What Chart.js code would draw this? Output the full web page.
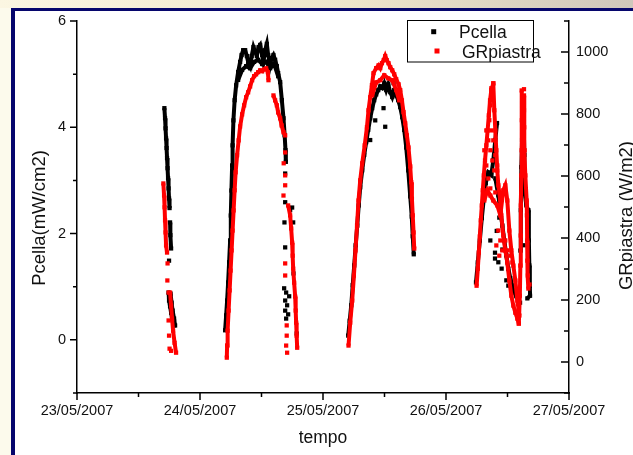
<!DOCTYPE html>
<html>
<head>
<meta charset="utf-8">
<title>Pcella / GRpiastra</title>
<script src="https://cdn.jsdelivr.net/npm/chart.js@4.4.1/dist/chart.umd.min.js"></script>
<style>
  html, body { margin: 0; padding: 0; }
  body { width: 633px; height: 455px; overflow: hidden; position: relative; background: #fcfaec; }
  #band { position: absolute; left: 0; top: 0; width: 633px; height: 8px;
          background: linear-gradient(to right, #fbf6e2, #efe6cb 55%, #cfc7bb); }
  #frame { position: absolute; left: 11px; top: 8px; width: 622px; height: 447px; background: #06066c; }
  #chart { position: absolute; left: 15px; top: 11px; background: #fff; }
</style>
</head>
<body>
<div id="band"></div>
<div id="frame"></div>
<canvas id="chart" width="618" height="444"></canvas>
<script>
"use strict";

// ---- axes: x is hours since 23/05/2007 00:00
const dayTicks = [0, 24, 48, 72, 96];
const dayLabels = ["23/05/2007", "24/05/2007", "25/05/2007", "26/05/2007", "27/05/2007"];
const dayMinorTicks = [12, 36, 60, 84];
const pcellaTicks = [0, 2, 4, 6];
const pcellaMinorTicks = [-1, 1, 3, 5];
const grTicks = [0, 200, 400, 600, 800, 1000];
const grMinorTicks = [-100, 100, 300, 500, 700, 900, 1100];

const xTitle = "tempo";
const pcellaTitle = "Pcella(mW/cm2)";
const grTitle = "GRpiastra (W/m2)";
const pcellaLabel = "Pcella";
const grLabel = "GRpiastra";

// ---- Pcella (mW/cm2): [hour, value], each array one dense trace
const pcella23a = [[17.05,4.36],[17.18,4.17],[17.28,3.98],[17.38,3.79],[17.48,3.61],[17.57,3.42],[17.67,3.23],[17.77,3.04],[17.87,2.85],[17.96,2.66],[18.06,2.48]];
const pcella23b = [[18.16,2.21],[18.22,1.97],[18.36,1.72]];
const pcella23c = [[17.87,0.89],[17.96,0.74],[18.16,0.63],[18.36,0.51],[18.55,0.40],[18.84,0.27]];
const pcella23d = [[18.26,0.87],[18.45,0.70],[18.65,0.55],[18.94,0.40],[19.14,0.27]];
const pcella24a = [[28.90,0.18],[29.10,0.46],[29.29,0.74],[29.49,1.08],[29.68,1.46],[29.88,1.87],[30.01,2.34],[30.13,2.81],[30.27,3.28],[30.36,3.66],[30.52,4.13],[30.76,4.51],[31.05,4.79],[31.44,5.04],[31.83,5.23],[32.12,5.36],[32.42,5.45],[32.81,5.45],[33.14,5.34],[33.39,5.23],[33.78,5.15],[34.08,5.34],[34.43,5.51],[34.76,5.42],[35.09,5.34],[35.44,5.51],[35.74,5.55],[36.13,5.36],[36.38,5.23],[36.71,5.45],[37.04,5.57],[37.30,5.36],[37.69,5.17],[37.98,5.30],[38.33,5.36],[38.66,5.27],[38.99,5.15],[39.25,5.02],[39.64,4.85],[39.97,4.51],[40.29,4.17],[40.52,3.85],[40.68,3.57],[40.75,3.35]];
const pcella24b = [[31.44,4.89],[32.22,5.08],[33.00,5.15],[33.78,5.11],[34.56,5.23],[35.35,5.27],[36.13,5.19],[36.91,5.23],[37.69,5.11],[38.47,5.19],[39.25,4.96]];
const pcella25a = [[52.92,0.08],[53.21,0.36],[53.51,0.65],[53.80,1.03],[54.09,1.40],[54.38,1.78],[54.68,2.15],[54.97,2.53],[55.26,2.87],[55.65,3.19],[56.04,3.48],[56.43,3.72],[56.82,3.95],[57.21,4.17],[57.60,4.36],[57.99,4.51],[58.38,4.62],[58.78,4.70],[59.17,4.77],[59.56,4.74],[59.95,4.83],[60.34,4.70],[60.73,4.81],[61.12,4.66],[61.51,4.57],[61.90,4.70],[62.29,4.60],[62.68,4.51],[63.07,4.38],[63.46,4.19],[63.85,3.95],[64.24,3.62],[64.63,3.19],[65.02,2.70],[65.32,2.32],[65.51,1.95],[65.71,1.61]];
const pcella26a = [[77.85,1.08],[78.21,1.46],[78.60,1.87],[78.99,2.29],[79.38,2.66],[79.77,2.95],[80.26,3.15],[80.84,3.10],[81.23,3.38],[81.62,3.76],[81.96,4.08]];
const pcella26b = [[81.62,3.04],[82.21,2.72],[82.60,2.44],[82.99,2.15],[83.38,1.87],[83.77,1.59],[84.16,1.34],[84.55,1.16],[84.94,1.02],[85.33,0.89],[85.72,0.82],[86.11,0.74],[86.45,0.70]];
const pcella26c = [[86.51,1.68],[86.60,2.44],[86.70,3.25],[86.84,3.76],[87.15,4.10],[87.29,3.48],[87.29,2.81],[87.68,2.53],[88.07,2.44],[88.17,1.87],[88.26,1.40],[88.36,1.02],[88.40,0.83],[87.87,0.78]];
// scattered single readings
const pcellaDots = [[17.96,1.49],[40.62,3.13],[40.62,2.59],[41.59,2.44],[40.48,2.21],[40.62,1.74],[42.24,1.25],[41.98,2.49],[42.18,2.21],[40.42,0.97],[40.81,0.89],[40.62,0.74],[41.00,0.65],[40.62,0.55],[41.20,0.48],[40.81,0.40],[41.40,0.82],[42.86,0.12],[58.19,4.13],[59.81,4.36],[60.14,4.01],[57.21,3.76],[61.77,4.83],[80.65,1.87],[81.56,1.64],[81.56,1.53],[82.21,1.46],[82.86,1.34],[83.77,1.12],[84.16,1.02],[87.15,1.78],[82.40,2.30],[83.00,1.70],[81.90,2.05]];

// ---- GRpiastra (W/m2)
const gr23a = [[16.85,576],[16.99,537],[17.09,499],[17.18,457],[17.28,418],[17.38,376],[17.57,353]];
const gr23b = [[18.16,224],[18.36,182],[18.55,140],[18.75,101],[19.04,62],[19.33,30]];
const gr24a = [[29.23,14],[29.29,53],[29.39,101],[29.58,166],[29.78,231],[29.97,295],[30.17,360],[30.36,424],[30.56,489],[30.76,554],[30.95,612],[31.24,667],[31.54,715],[31.83,760],[32.22,799],[32.61,828],[33.00,854],[33.39,870],[33.78,889],[34.17,909],[34.56,922],[34.95,928],[35.35,935],[35.74,941],[36.13,938],[36.52,944],[36.91,947],[37.24,935],[37.36,909]];
const gr24b = [[38.33,860],[38.66,844],[38.99,828],[39.25,805],[39.64,786],[39.93,763],[40.29,741],[40.62,731]];
const gr24c = [[41.20,505],[41.59,473],[41.79,431],[41.98,385],[42.08,343],[42.18,301],[42.37,256],[42.57,211],[42.67,166],[42.76,127],[42.86,85],[42.96,46]];
const gr25a = [[52.98,53],[53.31,127],[53.70,198],[54.03,279],[54.34,360],[54.64,440],[54.93,521],[55.26,586],[55.65,641],[56.14,699],[56.57,757],[56.88,812],[57.21,854],[57.54,893],[57.86,932],[58.38,948],[58.84,957],[59.17,948],[59.50,964],[59.85,974],[60.14,987],[60.43,974],[60.78,964],[61.12,951],[61.51,941],[61.90,928],[62.29,912],[62.74,896],[63.07,877],[63.40,844],[63.71,806],[64.04,770],[64.37,731],[64.68,692],[65.02,631],[65.21,580],[65.35,527],[65.51,473],[65.67,418],[65.80,366]];
const gr25b = [[57.60,860],[58.38,902],[59.17,909],[59.95,925],[60.73,915],[61.51,909],[62.29,877],[62.87,844]];
const gr26a = [[77.97,246],[78.21,301],[78.40,353],[78.60,405],[78.79,457],[78.99,505],[79.18,554],[79.38,602],[79.61,650],[79.87,699],[80.12,747],[80.36,796],[80.59,844],[80.84,877],[81.23,899]];
const gr26b = [[81.23,899],[81.43,812],[81.62,747],[81.82,683],[82.01,618],[82.21,570],[82.60,521],[82.79,473],[83.18,408],[83.57,360],[83.96,321],[84.36,263],[84.75,214],[85.14,182],[85.53,159],[85.92,140],[86.21,124]];
const gr26c = [[79.48,521],[80.07,554],[80.66,537],[81.23,521],[82.01,505],[82.60,473],[83.18,554],[83.57,570],[83.96,521],[84.36,424],[84.75,360],[85.14,311],[85.53,263],[85.92,198],[86.32,150]];
const gr26d = [[86.21,124],[86.41,214],[86.51,311],[86.57,408],[86.61,505],[86.70,602],[86.76,683],[86.80,780],[86.76,876]];
const gr26e = [[87.22,860],[87.22,812],[87.26,757],[87.35,683],[87.48,602],[87.74,521],[87.79,473],[87.83,392],[87.87,327],[87.97,279],[88.07,237]];
const grDots = [[17.67,318],[17.63,263],[17.87,224],[17.87,134],[17.96,85],[18.06,43],[18.36,36],[40.62,676],[40.33,641],[40.62,602],[40.62,570],[40.29,537],[40.62,318],[40.62,279],[40.92,118],[40.92,85],[40.81,53],[41.00,30],[80.84,883],[81.04,854],[80.66,828],[83.57,557],[82.60,505],[87.22,880],[88.30,250],
  [79.87,747],[80.26,715],[80.65,683],[81.04,650],[81.43,618],[80.45,780],[80.84,747],[81.23,715],[81.62,667],[82.01,634],[79.48,683],[79.87,634],[80.26,592],[80.65,560],[81.62,547],[82.21,424],[82.60,392],[82.99,360],[83.57,392],[83.96,360],[84.55,343],[84.94,321],[81.82,376],[82.40,343]];

const pcellaTraces = [pcella23a, pcella23b, pcella23c, pcella23d, pcella24a, pcella24b, pcella25a, pcella26a, pcella26b, pcella26c];
const grTraces = [gr23a, gr23b, gr24a, gr24b, gr24c, gr25a, gr25b, gr26a, gr26b, gr26c, gr26d, gr26e];

const COLORS = { pcella: "#000000", gr: "#ff0000", axis: "#000000", text: "#111111" };
const FONT = '"Liberation Sans", Arial, sans-serif';

// Join traces into one list; a null y breaks the line between traces.
function joinTraces(traces) {
  const out = [];
  traces.forEach(function (t, i) {
    if (i > 0) out.push({ x: t[0][0], y: null });
    t.forEach(function (p) { out.push({ x: p[0], y: p[1] }); });
  });
  return out;
}

function toPoints(list) {
  return list.map(function (p) { return { x: p[0], y: p[1] }; });
}

function series(label, color, axis, data, line, order) {
  return {
    label: label,
    data: data,
    yAxisID: axis,
    showLine: line,
    spanGaps: false,
    borderColor: color,
    backgroundColor: color,
    borderWidth: line ? 4 : 0,
    pointStyle: "rect",
    pointRadius: 3,
    pointBorderWidth: 0,
    order: order,
  };
}

function fixedTicks(values) {
  return function (scale) { scale.ticks = values.map(function (v) { return { value: v }; }); };
}

// Vertical axes: fixed width, and no extra label padding pushed onto the chart area.
function fitVertical(width) {
  return function (s) { s.width = width; s.paddingTop = 0; s.paddingBottom = 0; };
}

// Minor/major tick marks, axis titles and the boxed legend.
const decorPlugin = {
  id: "decor",
  afterDraw: function (chart) {
    const ctx = chart.ctx;
    const a = chart.chartArea;
    const sx = chart.scales.x, sl = chart.scales.yLeft, sr = chart.scales.yRight;
    ctx.save();
    ctx.strokeStyle = COLORS.axis;
    ctx.lineWidth = 1.5;
    ctx.beginPath();
    pcellaTicks.forEach(function (v) { const y = sl.getPixelForValue(v); ctx.moveTo(a.left - 7, y); ctx.lineTo(a.left, y); });
    pcellaMinorTicks.forEach(function (v) { const y = sl.getPixelForValue(v); ctx.moveTo(a.left - 4, y); ctx.lineTo(a.left, y); });
    grTicks.forEach(function (v) { const y = sr.getPixelForValue(v); ctx.moveTo(a.right - 8, y); ctx.lineTo(a.right, y); });
    grMinorTicks.forEach(function (v) { const y = sr.getPixelForValue(v); ctx.moveTo(a.right - 5, y); ctx.lineTo(a.right, y); });
    dayTicks.forEach(function (v) { const x = sx.getPixelForValue(v); ctx.moveTo(x, a.bottom); ctx.lineTo(x, a.bottom + 7); });
    dayMinorTicks.forEach(function (v) { const x = sx.getPixelForValue(v); ctx.moveTo(x, a.bottom); ctx.lineTo(x, a.bottom + 4); });
    ctx.stroke();

    // axis titles
    ctx.fillStyle = COLORS.text;
    ctx.font = "17.5px " + FONT;
    ctx.textAlign = "center";
    ctx.textBaseline = "alphabetic";
    ctx.fillText(xTitle, (a.left + a.right) / 2, 432);
    ctx.font = "18.5px " + FONT;
    ctx.save();
    ctx.translate(29.5, 207);
    ctx.rotate(-Math.PI / 2);
    ctx.fillText(pcellaTitle, 0, 0);
    ctx.restore();
    ctx.save();
    ctx.translate(616.5, 204.5);
    ctx.rotate(-Math.PI / 2);
    ctx.fillText(grTitle, 0, 0);
    ctx.restore();

    // legend
    ctx.lineWidth = 1;
    ctx.strokeRect(392.5, 9.5, 126, 41.5);
    ctx.fillStyle = COLORS.pcella;
    ctx.fillRect(416.2, 18.2, 5, 5);
    ctx.fillStyle = COLORS.gr;
    ctx.fillRect(419.5, 37.5, 5, 5);
    ctx.fillStyle = COLORS.text;
    ctx.font = "17.5px " + FONT;
    ctx.textAlign = "left";
    ctx.fillText(pcellaLabel, 444, 26.7);
    ctx.fillText(grLabel, 447, 46.7);
    ctx.restore();
  },
};

const tickFont = { family: FONT, size: 14.5 };

new Chart(document.getElementById("chart"), {
  type: "scatter",
  data: {
    datasets: [
      series(grLabel, COLORS.gr, "yRight", joinTraces(grTraces), true, 0),
      series(grLabel, COLORS.gr, "yRight", toPoints(grDots), false, 0),
      series(pcellaLabel, COLORS.pcella, "yLeft", joinTraces(pcellaTraces), true, 1),
      series(pcellaLabel, COLORS.pcella, "yLeft", toPoints(pcellaDots), false, 1),
    ],
  },
  options: {
    responsive: false,
    devicePixelRatio: 1,
    animation: false,
    events: [],
    layout: { padding: { top: 10, left: 0, right: 0, bottom: 0 } },
    plugins: { legend: { display: false }, tooltip: { enabled: false } },
    scales: {
      x: {
        type: "linear",
        min: 0,
        max: 96,
        afterBuildTicks: fixedTicks(dayTicks),
        afterFit: function (s) { s.height = 62; },
        grid: { display: false, drawTicks: false },
        border: { display: true, color: COLORS.axis, width: 1.5 },
        ticks: {
          autoSkip: false,
          maxRotation: 0,
          padding: 9,
          color: COLORS.text,
          font: tickFont,
          callback: function (v) { return dayLabels[dayTicks.indexOf(v)]; },
        },
      },
      yLeft: {
        type: "linear",
        position: "left",
        min: -1,
        max: 6,
        afterBuildTicks: fixedTicks(pcellaTicks),
        afterFit: fitVertical(62),
        grid: { display: false, drawTicks: false },
        border: { display: true, color: COLORS.axis, width: 1.5 },
        ticks: { padding: 11, color: COLORS.text, font: tickFont, callback: function (v) { return String(v); } },
      },
      yRight: {
        type: "linear",
        position: "right",
        min: -100,
        max: 1100,
        afterBuildTicks: fixedTicks(grTicks),
        afterFit: fitVertical(64),
        grid: { display: false, drawTicks: false },
        border: { display: true, color: COLORS.axis, width: 1.5 },
        ticks: { padding: 7, color: COLORS.text, font: tickFont, callback: function (v) { return String(v); } },
      },
    },
  },
  plugins: [decorPlugin],
});
</script>
</body>
</html>
